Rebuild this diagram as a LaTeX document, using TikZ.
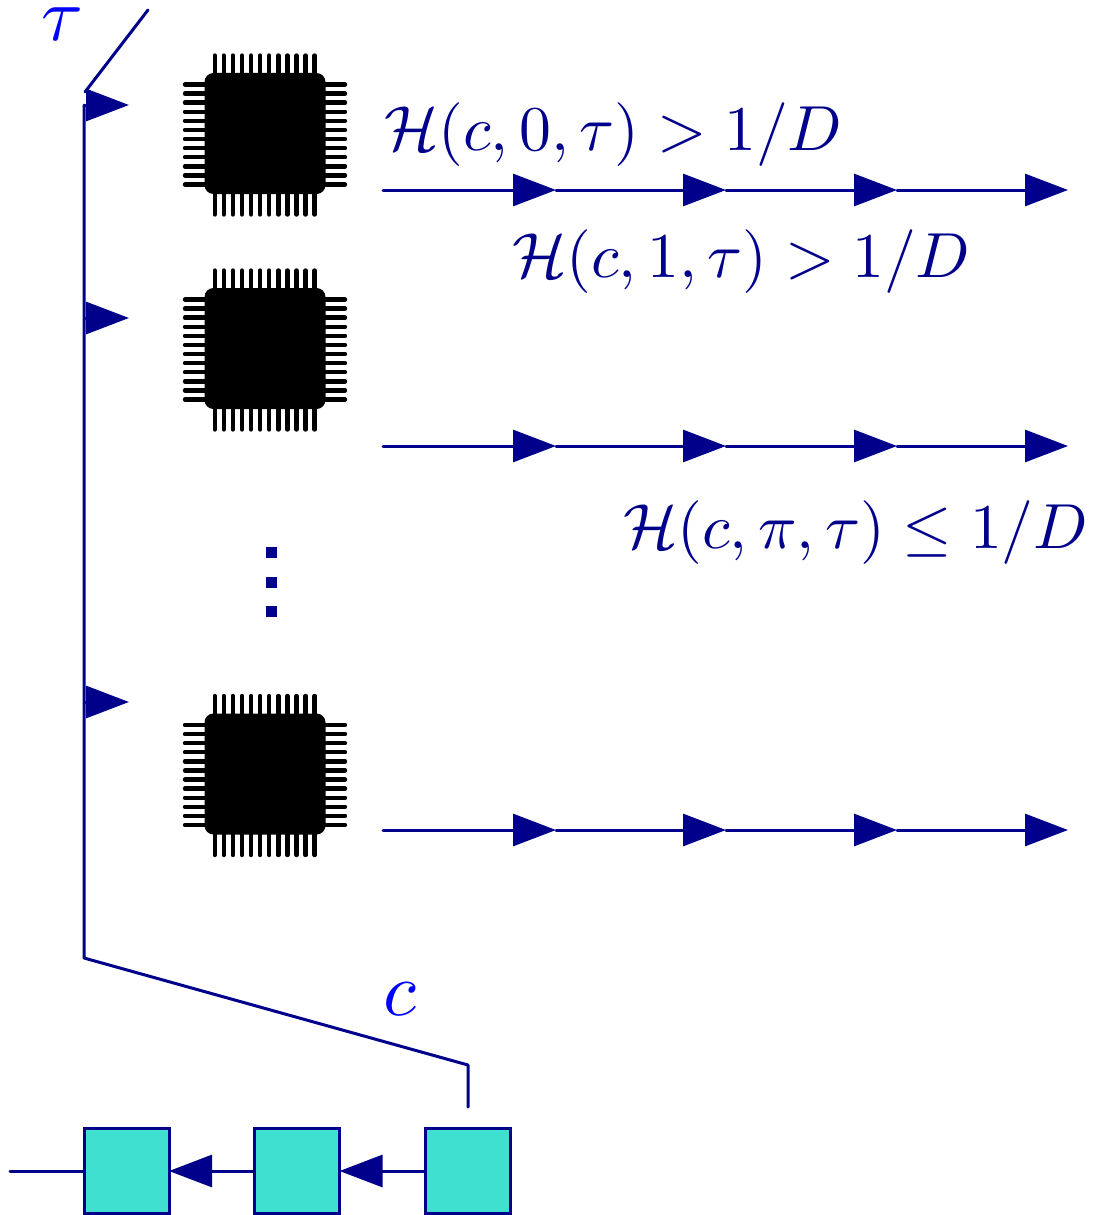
\documentclass[tikz,border=0pt]{standalone}
\usetikzlibrary{arrows.meta}
\definecolor{wire}{RGB}{0,0,139}
\definecolor{labelblue}{RGB}{0,0,255}
\definecolor{cellfill}{RGB}{64,224,208}
\tikzset{
  wireline/.style={draw=wire,line width=3pt,line cap=round,line join=round},
  arrowline/.style={wireline,-{Triangle[length=43pt,width=32pt]}},
  cell/.style={draw=wire,line width=3pt,fill=cellfill,minimum size=85pt,inner sep=0pt,outer sep=0pt},
  chipbody/.style={fill=black,rounded corners=9pt,minimum size=121pt,inner sep=0pt,outer sep=0pt},
  pin/.style={draw=black,line width=4.4pt,line cap=round},
  formula/.style={text=wire,scale=6.37,inner sep=0pt,anchor=base west},
  varlabel/.style={text=labelblue,scale=7.6,inner sep=0pt,anchor=base},
  dotmark/.style={fill=wire,minimum size=11pt,inner sep=0pt,outer sep=0pt}
}
\newcommand{\chipat}[2]{%
  \foreach \k in {0,...,11}{
    \draw[pin] (214.7+\k*9.09,#2-78) -- (214.7+\k*9.09,#2+81);
    \draw[pin] (185,#2-49+\k*9.09) -- (345,#2-49+\k*9.09);
  }
  \node[chipbody] (#1) at (265,#2) {};
}
\newcommand{\rowat}[2]{%
  \coordinate (#1s) at (383,#2);
  \coordinate (#1a) at (556,#2);
  \coordinate (#1b) at (726,#2);
  \coordinate (#1c) at (897,#2);
  \coordinate (#1d) at (1068,#2);
  \draw[arrowline] (#1s) -- (#1a);
  \draw[arrowline] (#1a) -- (#1b);
  \draw[arrowline] (#1b) -- (#1c);
  \draw[arrowline] (#1c) -- (#1d);
}
\begin{document}
\begin{tikzpicture}[x=1pt,y=-1pt]
\useasboundingbox (0,0) rectangle (1092,1215);
\chipat{chipa}{133.5}
\chipat{chipb}{348.5}
\chipat{chipc}{774}
\rowat{ra}{190}
\rowat{rb}{446}
\rowat{rc}{830}
% clock wire and switch
\coordinate (swtop) at (148,10);
\coordinate (swpivot) at (85,92);
\coordinate (wt) at (84,105);
\coordinate (wb) at (84,958);
\coordinate (wc) at (468,1065);
\coordinate (we) at (468,1107);
\draw[wireline] (swtop) -- (swpivot);
\draw[wireline] (wt) -- (wb) -- (wc) -- (we);
\coordinate (ta) at (129,105);
\coordinate (tb) at (129,318);
\coordinate (tc) at (129,702);
\coordinate (wa) at (85,105);
\coordinate (wbb) at (85,318);
\coordinate (wcc) at (85,702);
\draw[arrowline] (wa) -- (ta);
\draw[arrowline] (wbb) -- (tb);
\draw[arrowline] (wcc) -- (tc);
% cells
\node[cell] (c1) at (126.5,1171) {};
\node[cell] (c2) at (297,1171) {};
\node[cell] (c3) at (468,1171) {};
\coordinate (lead) at (10,1171);
\draw[wireline] (lead) -- (c1);
\draw[arrowline] (c2) -- (c1);
\draw[arrowline] (c3) -- (c2);
% labels
\node[varlabel] (ltau) at (62,41) {$\tau$};
\node[varlabel] (lc) at (400,1015) {$c$};
\node[formula] (fa) at (383,150) {$\mathcal{H}(c,0,\tau)>1/D$};
\node[formula] (fb) at (511,277) {$\mathcal{H}(c,1,\tau)>1/D$};
\node[formula] (fc) at (622,548) {$\mathcal{H}(c,\pi,\tau)\leq 1/D$};
% vertical dots
\node[dotmark] (d1) at (271.5,552.5) {};
\node[dotmark] (d2) at (271.5,582.5) {};
\node[dotmark] (d3) at (271.5,611.5) {};
\end{tikzpicture}
\end{document}
